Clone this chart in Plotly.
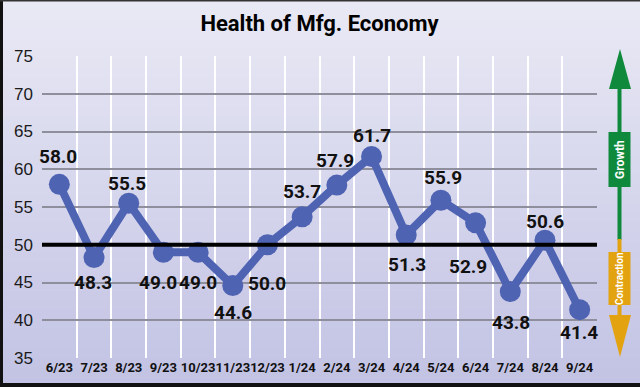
import plotly.graph_objects as go

months = ["6/23", "7/23", "8/23", "9/23", "10/23", "11/23", "12/23", "1/24",
          "2/24", "3/24", "4/24", "5/24", "6/24", "7/24", "8/24", "9/24"]
pmi = [58.0, 48.3, 55.5, 49.0, 49.0, 44.6, 50.0, 53.7,
       57.9, 61.7, 51.3, 55.9, 52.9, 43.8, 50.6, 41.4]
y_ticks = [35, 40, 45, 50, 55, 60, 65, 70, 75]
threshold = 50

# label placement offsets in pixels (style)
label_dy = [28, -25, 20, -30, -30, -27, -39, 25, 25, 21, -30, 23, -44, -31, 19, -23]
label_dx = [-1, -1, -2, -5, 0, 0, 0, 0, -2, 0, 1, 2, -8, 1, 0, -1]

LINE = "#4f63b3"
COND = "Roboto, Liberation Sans, Arial, sans-serif"

W, H = 640, 387
L, R, T, B = 42, 43, 56, 29
pw, ph = W - L - R, H - T - B


def px(x):
    return (x - L) / pw


def py(y):
    return (H - B - y) / ph


fig = go.Figure()
# threshold line drawn as a trace below the series
fig.add_trace(go.Scatter(
    x=[0, 1], y=[threshold, threshold], xaxis="x2", yaxis="y",
    mode="lines", line=dict(color="#000000", width=4),
    hoverinfo="skip", showlegend=False,
))
fig.add_trace(go.Scatter(
    x=months, y=pmi, mode="lines+markers",
    line=dict(color=LINE, width=8),
    marker=dict(color=LINE, size=21),
    hoverinfo="skip", showlegend=False, cliponaxis=False,
))

annotations = []
for m, v, dx, dy in zip(months, pmi, label_dx, label_dy):
    annotations.append(dict(
        x=m, y=v, xref="x", yref="y", text=f"{v:.1f}", showarrow=False,
        xanchor="center", yanchor="middle", xshift=dx, yshift=dy,
        font=dict(family=COND, size=19, color="#111111", weight="bold")))

shapes = []
# gradient background
n = 40
top_c = (233, 233, 245)
bot_c = (194, 194, 228)
for i in range(n):
    f = i / (n - 1)
    c = tuple(round(top_c[k] + (bot_c[k] - top_c[k]) * f) for k in range(3))
    y0 = H * i / n
    y1 = H * (i + 1) / n + 0.5
    shapes.append(dict(type="rect", xref="paper", yref="paper",
                       x0=px(0), x1=px(W), y0=py(y1), y1=py(y0),
                       fillcolor="rgb(%d,%d,%d)" % c, line=dict(width=0),
                       layer="below"))
# frame
shapes.append(dict(type="rect", xref="paper", yref="paper", x0=px(0), x1=px(3),
                   y0=py(H), y1=py(0), fillcolor="#111111", line=dict(width=0)))
shapes.append(dict(type="rect", xref="paper", yref="paper", x0=px(0), x1=px(W),
                   y0=py(H), y1=py(383), fillcolor="#111111", line=dict(width=0)))
shapes.append(dict(type="rect", xref="paper", yref="paper", x0=px(0), x1=px(W),
                   y0=py(1.5), y1=py(0), fillcolor="#333333", line=dict(width=0)))

GREEN = "#0f8a3c"
ORANGE = "#e3a20f"
# growth arrow
shapes.append(dict(type="rect", xref="paper", yref="paper", x0=px(617.5), x1=px(621.5),
                   y0=py(240), y1=py(88), fillcolor=GREEN, line=dict(width=0)))
shapes.append(dict(type="path", xref="paper", yref="paper",
                   path="M %f %f L %f %f L %f %f Z" % (px(609), py(89), px(631), py(89), px(620), py(49)),
                   fillcolor=GREEN, line=dict(width=0)))
shapes.append(dict(type="rect", xref="paper", yref="paper", x0=px(608.5), x1=px(630.5),
                   y0=py(187), y1=py(132), fillcolor=GREEN, line=dict(width=0)))
# contraction arrow
shapes.append(dict(type="rect", xref="paper", yref="paper", x0=px(617.5), x1=px(621.5),
                   y0=py(316), y1=py(239), fillcolor=ORANGE, line=dict(width=0)))
shapes.append(dict(type="path", xref="paper", yref="paper",
                   path="M %f %f L %f %f L %f %f Z" % (px(609), py(315), px(631), py(315), px(620), py(357)),
                   fillcolor=ORANGE, line=dict(width=0)))
shapes.append(dict(type="rect", xref="paper", yref="paper", x0=px(608.5), x1=px(630.5),
                   y0=py(305), y1=py(252), fillcolor=ORANGE, line=dict(width=0)))

annotations += [
    dict(text="Growth", xref="paper", yref="paper", x=px(619.5), y=py(159.5),
         showarrow=False, textangle=-90, xanchor="center", yanchor="middle",
         font=dict(family=COND, size=12, color="white", weight="bold")),
    dict(text="Contraction", xref="paper", yref="paper", x=px(619.5), y=py(278.5),
         showarrow=False, textangle=-90, xanchor="center", yanchor="middle",
         font=dict(family=COND, size=10, color="white", weight="bold")),
]

fig.update_layout(
    width=W, height=H,
    margin=dict(l=L, r=R, t=T, b=B, autoexpand=False),
    paper_bgcolor="#e0e0f0",
    plot_bgcolor="rgba(0,0,0,0)",
    title=dict(text="Health of Mfg. Economy", x=0.5, xref="paper", xanchor="center",
               y=1 - 23 / H, yref="container", yanchor="middle",
               font=dict(family=COND, size=22, color="#000000", weight="bold")),
    shapes=shapes,
    annotations=annotations,
    xaxis=dict(type="category", range=[-0.5, 15.5], tickson="boundaries",
               showgrid=True, gridcolor="#ffffff", gridwidth=2,
               showline=False, zeroline=False, ticks="", tickangle=0,
               automargin=False,
               tickfont=dict(family=COND, size=13, color="#111111", weight="bold"),
               fixedrange=True),
    xaxis2=dict(range=[0, 1], overlaying="x", visible=False, fixedrange=True),
    yaxis=dict(range=[35, 75], tickvals=y_ticks, showgrid=True,
               gridcolor="#8e8e9c", gridwidth=1.5, zeroline=False,
               showline=False, ticks="", ticklabelstandoff=8, automargin=False,
               tickfont=dict(family="Liberation Sans, Arial, sans-serif", size=17, color="#1a1a1a"),
               fixedrange=True),
)

fig.write_html(
    "out.html",
    config={"displayModeBar": False},
    post_script="document.body.style.margin='0';document.body.style.padding='0';",
)
